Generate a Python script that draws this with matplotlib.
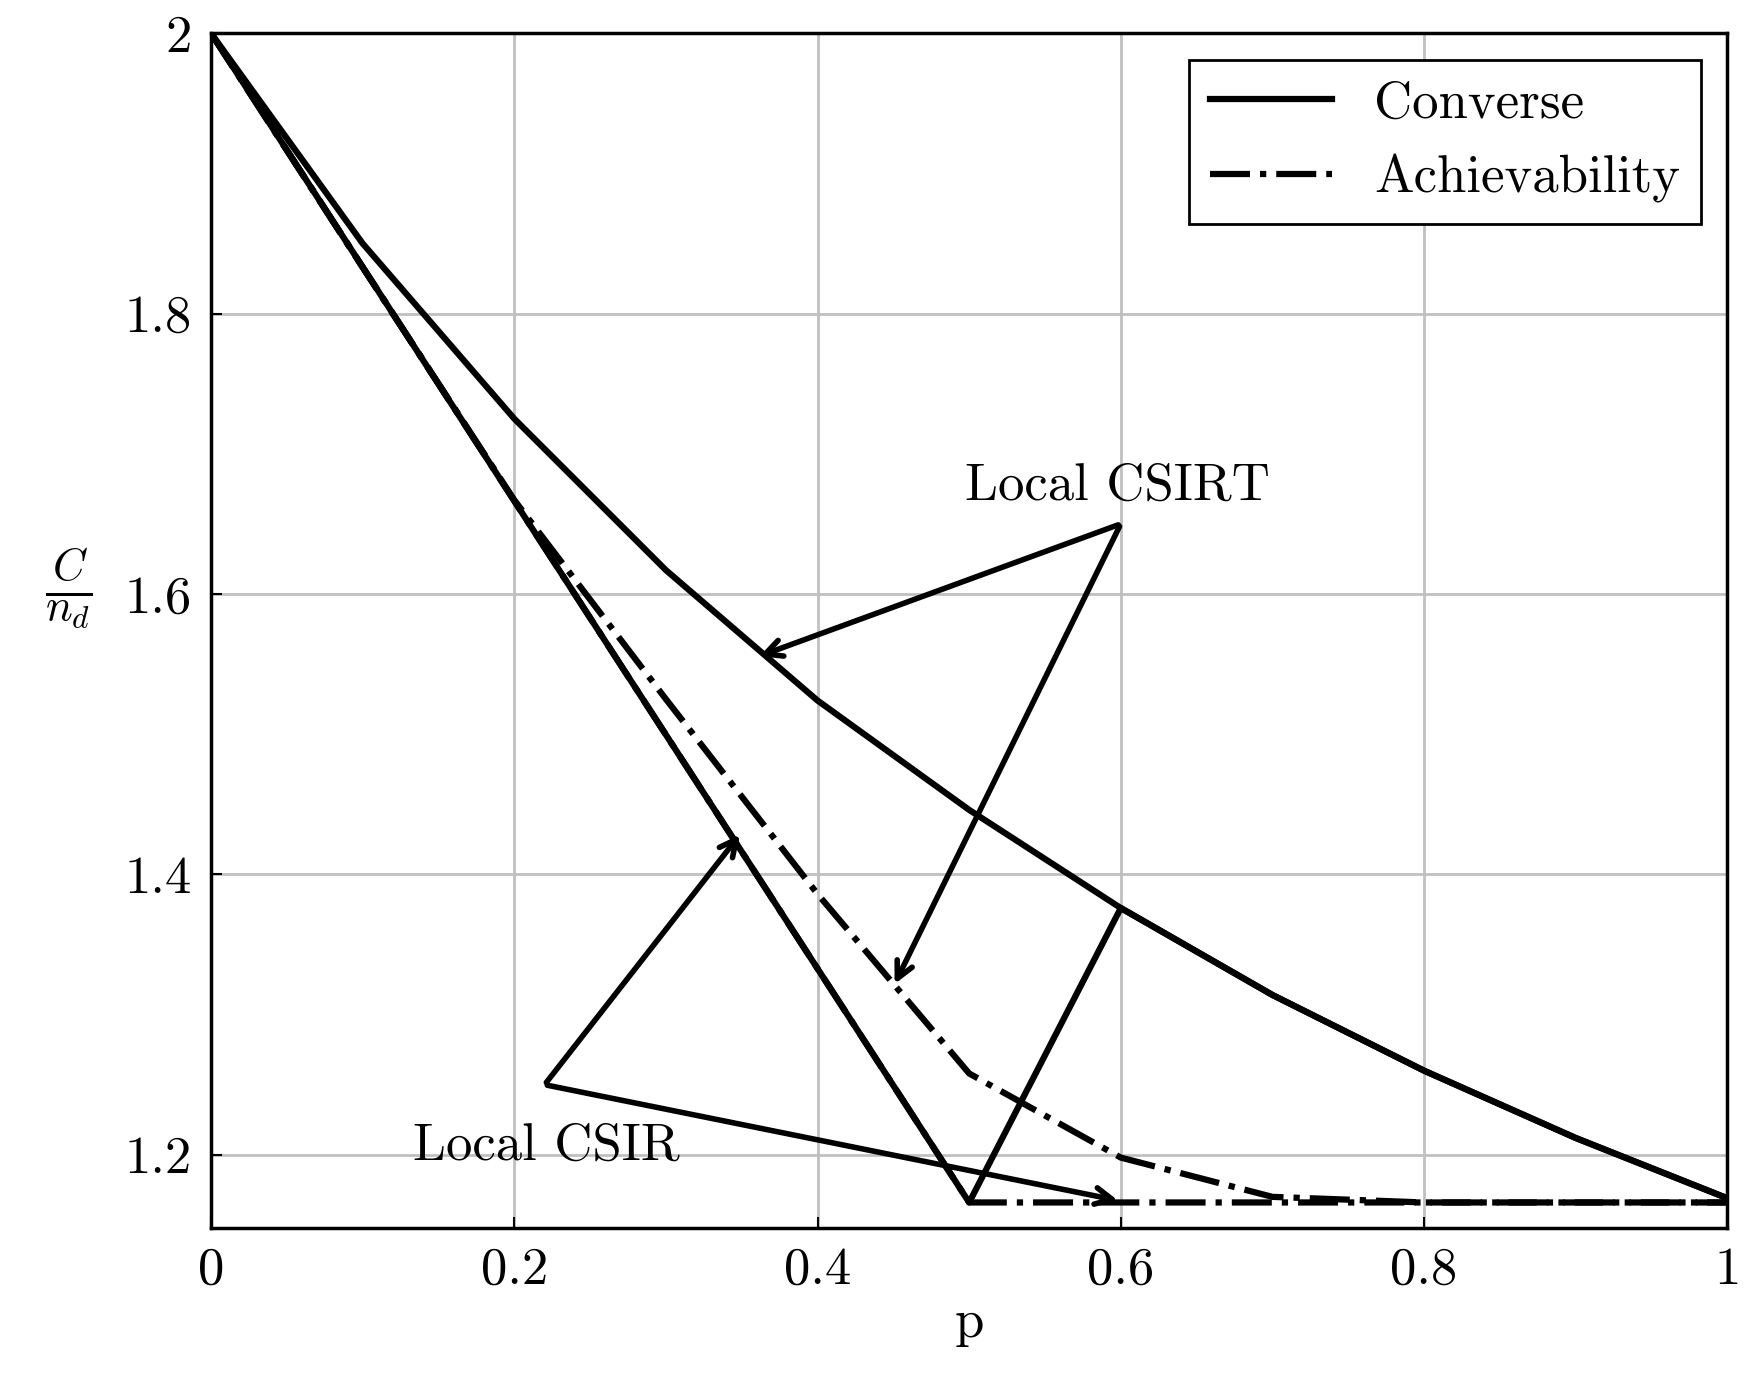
import matplotlib
matplotlib.use("Agg")
import matplotlib.pyplot as plt

plt.rcParams['font.family'] = 'serif'
plt.rcParams['font.serif'] = ['cmr10']
plt.rcParams['mathtext.fontset'] = 'cm'
plt.rcParams['axes.formatter.use_mathtext'] = True

p = [0, 0.1, 0.2, 0.3, 0.4, 0.5, 0.6, 0.7, 0.8, 0.9, 1.0]
conv_csirt = [2.0, 1.85, 1.725, 1.617, 1.524, 1.446, 1.376, 1.314, 1.26, 1.212, 1.169]
ach_csirt = [2.0, 1.833, 1.667, 1.525, 1.386, 1.258, 1.198, 1.17, 1.166, 1.166, 1.166]
p_csir = [0, 0.5, 0.6, 0.7, 0.8, 0.9, 1.0]
conv_csir = [2.0, 1.166, 1.376, 1.314, 1.26, 1.212, 1.169]
ach_csir_p = [0, 0.5, 0.6, 0.7, 0.8, 0.9, 1.0]
ach_csir = [2.0, 1.166, 1.166, 1.166, 1.166, 1.166, 1.166]

fs = 38
fig = plt.figure(figsize=(17.51, 13.81), dpi=100)
ax = fig.add_axes([0.1205, 0.111, 0.866, 0.865])
ax.plot(p, conv_csirt, 'k-', lw=4.5, label='Converse')
ax.plot(p_csir, conv_csir, 'k-', lw=4.5)
ax.plot(p, ach_csirt, 'k-.', lw=4.5, label='Achievability')
ax.plot(ach_csir_p, ach_csir, 'k-.', lw=4.5)

ax.set_xlim(0, 1)
ax.set_ylim(1.148, 2.0)
ax.set_xticks([0, 0.2, 0.4, 0.6, 0.8, 1])
ax.set_xticklabels(['0', '0.2', '0.4', '0.6', '0.8', '1'])
ax.set_yticks([1.2, 1.4, 1.6, 1.8, 2])
ax.set_yticklabels(['1.2', '1.4', '1.6', '1.8', '2'])
ax.grid(True, color='#c0c0c0', lw=2)
ax.tick_params(labelsize=fs, direction='in', length=8, width=1.5, pad=14)
for s in ax.spines.values():
    s.set_linewidth(2.5)
ax.set_xlabel('p', fontsize=fs)
ax.set_ylabel(r'$\frac{C}{n_d}$', fontsize=fs + 8, rotation=0, labelpad=40)

arr = dict(arrowstyle='->', lw=4, color='k', mutation_scale=30)
ax.text(0.598, 1.677, 'Local CSIRT', fontsize=fs, ha='center', va='center')
ax.annotate('', xy=(0.36, 1.555), xytext=(0.6, 1.65), arrowprops=arr)
ax.annotate('', xy=(0.45, 1.32), xytext=(0.6, 1.65), arrowprops=arr)
ax.text(0.221, 1.206, 'Local CSIR', fontsize=fs, ha='center', va='center')
ax.annotate('', xy=(0.35, 1.43), xytext=(0.22, 1.25), arrowprops=arr)
ax.annotate('', xy=(0.6, 1.167), xytext=(0.22, 1.25), arrowprops=arr)

leg = ax.legend(loc='upper right', fontsize=fs, fancybox=False, edgecolor='k',
                handlelength=2.3, borderpad=0.4, framealpha=1)
leg.get_frame().set_linewidth(2)

fig.savefig('out.png', dpi=100)
